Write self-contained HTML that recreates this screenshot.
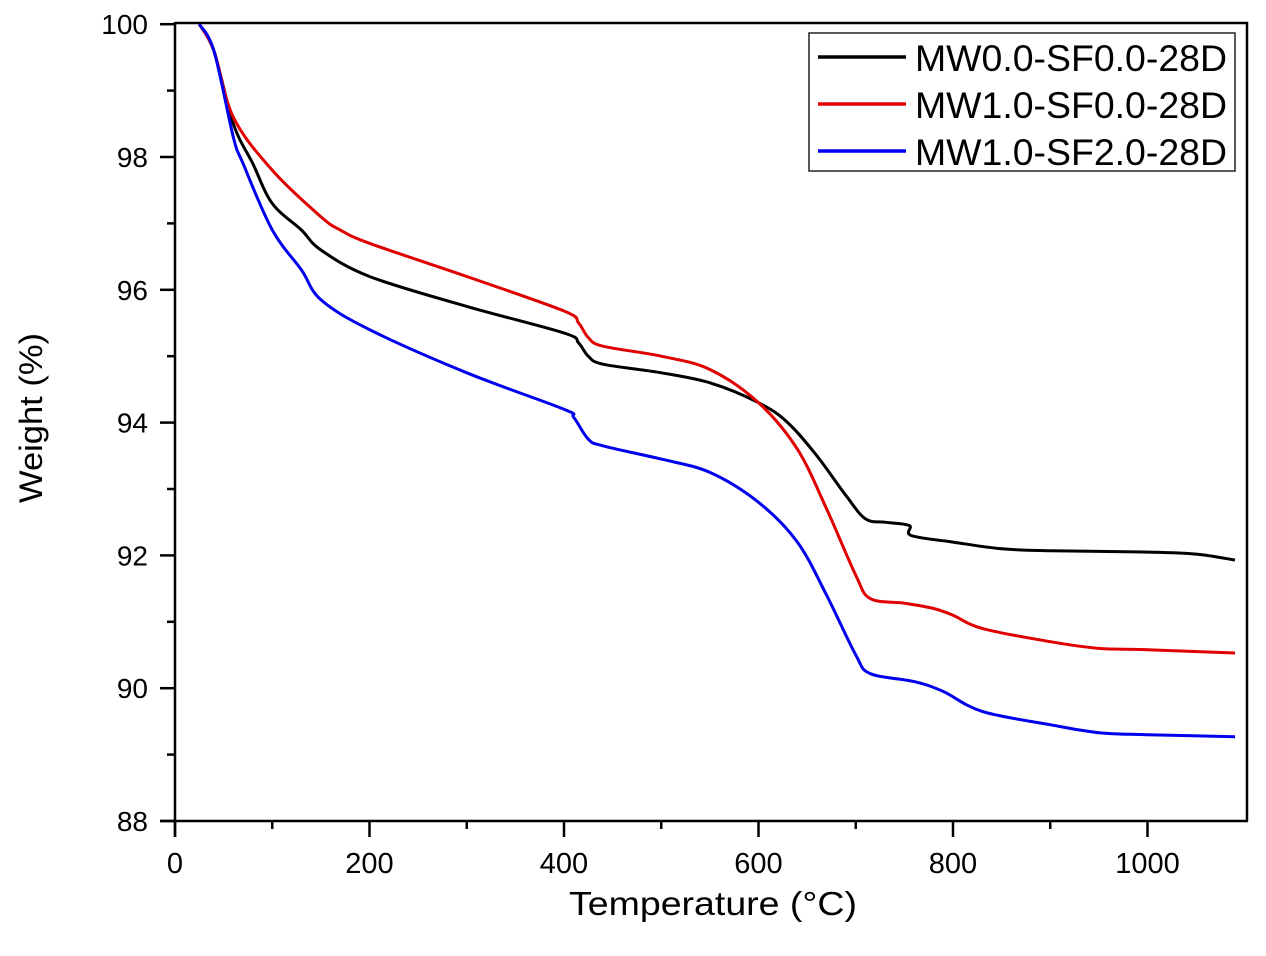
<!DOCTYPE html>
<html><head><meta charset="utf-8"><style>
body{margin:0;background:#fff;width:1266px;height:951px;overflow:hidden}
svg text{font-family:"Liberation Sans",Arial,sans-serif}
</style></head><body>
<svg id="chart" width="1266" height="951" xmlns="http://www.w3.org/2000/svg">
<g id="axes"></g><g id="series"></g><g id="legend"></g>
</svg>
<script>
const xTicks=[0,200,400,600,800,1000];
const yTicks=[88,90,92,94,96,98,100];
const seriesNames=["MW0.0-SF0.0-28D","MW1.0-SF0.0-28D","MW1.0-SF2.0-28D"];
const seriesColors=["#000","#e00000","#0000ee"];
const tBlack=[25,40,60,80,100,130,150,200,300,400,415,425,440,500,550,600,630,660,690,710,730,755,757,800,850,900,1000,1050,1090];
const wBlack=[100,99.6,98.5,97.9,97.3,96.9,96.6,96.2,95.75,95.35,95.2,95.0,94.88,94.75,94.6,94.3,94.0,93.5,92.9,92.55,92.5,92.45,92.3,92.2,92.1,92.07,92.05,92.02,91.93];
const tRed=[25,40,60,100,150,170,200,300,400,415,425,440,500,550,600,640,670,700,715,750,780,800,830,900,950,1000,1090];
const wRed=[100,99.6,98.6,97.8,97.1,96.9,96.7,96.2,95.68,95.5,95.28,95.15,95.0,94.8,94.3,93.6,92.7,91.7,91.35,91.28,91.2,91.1,90.9,90.7,90.6,90.58,90.53];
const tBlue=[25,40,60,70,100,130,150,200,300,400,410,425,440,500,550,600,640,670,700,715,760,790,830,900,950,1000,1090];
const wBlue=[100,99.6,98.3,97.9,96.9,96.3,95.85,95.4,94.75,94.2,94.08,93.75,93.65,93.45,93.25,92.8,92.2,91.4,90.5,90.22,90.1,89.95,89.65,89.45,89.33,89.3,89.27];
const NS="http://www.w3.org/2000/svg";
const X=t=>175+t*0.9725, Y=w=>821-(w-88)*66.4;
function mk(tag,attrs,parent){const e=document.createElementNS(NS,tag);for(const k in attrs)e.setAttribute(k,attrs[k]);parent.appendChild(e);return e;}
const ax=document.getElementById('axes');
let e=mk('line',{x1:160,y1:821,x2:1248,y2:821,stroke:'#000','stroke-width':2.5},ax);

e=mk('line',{x1:175,y1:22,x2:175,y2:837,stroke:'#000','stroke-width':2.5},ax);

e=mk('polyline',{points:'175,23 1247,23 1247,821',fill:'none',stroke:'#000','stroke-width':2.5},ax);

for(let t=100;t<1090;t+=200){mk('line',{x1:X(t),y1:821,x2:X(t),y2:829,stroke:'#000','stroke-width':2.5},ax);}
for(let w=89;w<100;w+=2){mk('line',{x1:167,y1:Y(w),x2:175,y2:Y(w),stroke:'#000','stroke-width':2.5},ax);}
xTicks.forEach(t=>{mk('line',{x1:X(t),y1:821,x2:X(t),y2:837,stroke:'#000','stroke-width':2.5},ax);
 const tx=mk('text',{x:X(t),y:873,'font-size':29,'text-anchor':'middle'},ax);tx.textContent=t;
 });
yTicks.forEach(w=>{mk('line',{x1:160,y1:Y(w),x2:175,y2:Y(w),stroke:'#000','stroke-width':2.5},ax);
 const tx=mk('text',{x:148,y:Y(w)+10,'font-size':28,'text-anchor':'end'},ax);tx.textContent=w;
 });
e=mk('text',{x:569,y:915,'font-size':33,textLength:288,lengthAdjust:'spacingAndGlyphs'},ax);e.textContent='Temperature (°C)';

e=mk('text',{x:-85,y:0,'font-size':32,textLength:170,lengthAdjust:'spacingAndGlyphs',transform:'translate(42,418) rotate(-90)'},ax);e.textContent='Weight (%)';

function smooth(P){let d='M'+P[0][0].toFixed(1)+','+P[0][1].toFixed(1);
 for(let i=0;i<P.length-1;i++){const p0=P[Math.max(0,i-1)],p1=P[i],p2=P[i+1],p3=P[Math.min(P.length-1,i+2)];
  const c1=[p1[0]+(p2[0]-p0[0])/6,p1[1]+(p2[1]-p0[1])/6],c2=[p2[0]-(p3[0]-p1[0])/6,p2[1]-(p3[1]-p1[1])/6];
  d+=' C'+c1.map(v=>v.toFixed(1)).join(',')+' '+c2.map(v=>v.toFixed(1)).join(',')+' '+p2[0].toFixed(1)+','+p2[1].toFixed(1);}
 return d;}
const sg=document.getElementById('series');
[[tBlack,wBlack],[tRed,wRed],[tBlue,wBlue]].forEach((s,i)=>{
 const P=s[0].map((t,j)=>[X(t),Y(s[1][j])]);
 const p=mk('path',{d:smooth(P),fill:'none',stroke:seriesColors[i],'stroke-width':3,'stroke-linejoin':'round'},sg);
 });
const lg=document.getElementById('legend');
e=mk('rect',{x:809,y:33,width:426,height:138,fill:'#fff',stroke:'#222','stroke-width':1.5},lg);

seriesNames.forEach((n,i)=>{const y=57+i*47;
 mk('line',{x1:818,y1:y,x2:906,y2:y,stroke:seriesColors[i],'stroke-width':3.5},lg);
 const tx=mk('text',{x:915,y:y+14,'font-size':37,textLength:312,lengthAdjust:'spacingAndGlyphs'},lg);tx.textContent=n;
 });
</script>
</body></html>
